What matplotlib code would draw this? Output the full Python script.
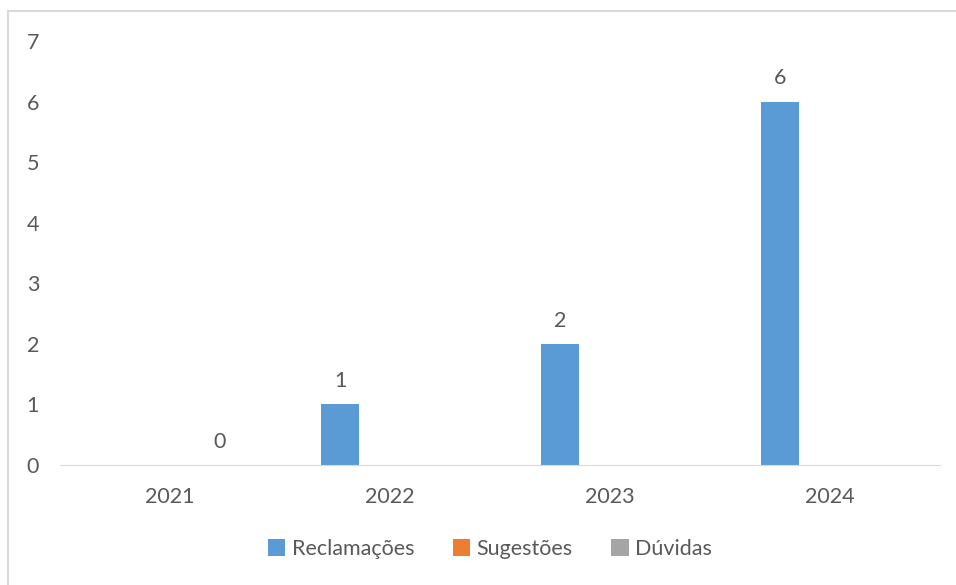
import numpy as np
import matplotlib.pyplot as plt
from matplotlib.patches import Rectangle

years = ["2021", "2022", "2023", "2024"]
reclamacoes = [0, 1, 2, 6]
sugestoes = [0, 0, 0, 0]
duvidas = [0, 0, 0, 0]
series_names = ["Reclamações", "Sugestões", "Dúvidas"]
colors = ["#5b9bd5", "#ed7d31", "#a5a5a5"]

plt.rcParams['font.family'] = ['Lato', 'DejaVu Sans']
txt = "#595959"
fs = 15.5

fig = plt.figure(figsize=(9.56, 5.85), dpi=100)
ax = fig.add_axes([60 / 956, 1 - 465 / 585, 880 / 956, 424 / 585])

# outer chart frame (right and bottom edges run off the picture)
fig.patches.append(Rectangle((8 / 956, -0.1), 1.2, 1 - 11 / 585 + 0.1,
                             transform=fig.transFigure, fill=False,
                             edgecolor="#d9d9d9", linewidth=1.5))

x = np.arange(len(years))
w = 0.173
off = 0.227
for i, vals in enumerate([reclamacoes, sugestoes, duvidas]):
    ax.bar(x + (i - 1) * off, vals, w, color=colors[i], label=series_names[i])

# data labels
for xi, v in zip(x, reclamacoes):
    if v > 0:
        ax.text(xi - off, v + 0.22, str(v), ha="center", va="bottom", fontsize=fs, color=txt)
ax.text(x[0] + off, duvidas[0] + 0.22, str(duvidas[0]), ha="center", va="bottom", fontsize=fs, color=txt)

ax.set_xlim(-0.5, 3.5)
ax.set_ylim(0, 7)
ax.set_xticks(x)
ax.set_xticklabels(years)
ax.set_yticks(range(8))
for s in ["top", "right", "left"]:
    ax.spines[s].set_visible(False)
ax.spines["bottom"].set_color("#d9d9d9")
ax.tick_params(axis="both", length=0, labelsize=fs, labelcolor=txt)
ax.tick_params(axis="x", pad=16)
for lbl in ax.get_yticklabels():
    lbl.set_horizontalalignment("left")
ax.yaxis.set_tick_params(pad=24)

fig.legend(loc="center", bbox_to_anchor=(490 / 956, 1 - 549 / 585), ncol=3, frameon=False,
           fontsize=fs, labelcolor=txt, handlelength=0.8, handleheight=0.8,
           handletextpad=0.3, columnspacing=1.8)

fig.savefig("out.png", dpi=100)
